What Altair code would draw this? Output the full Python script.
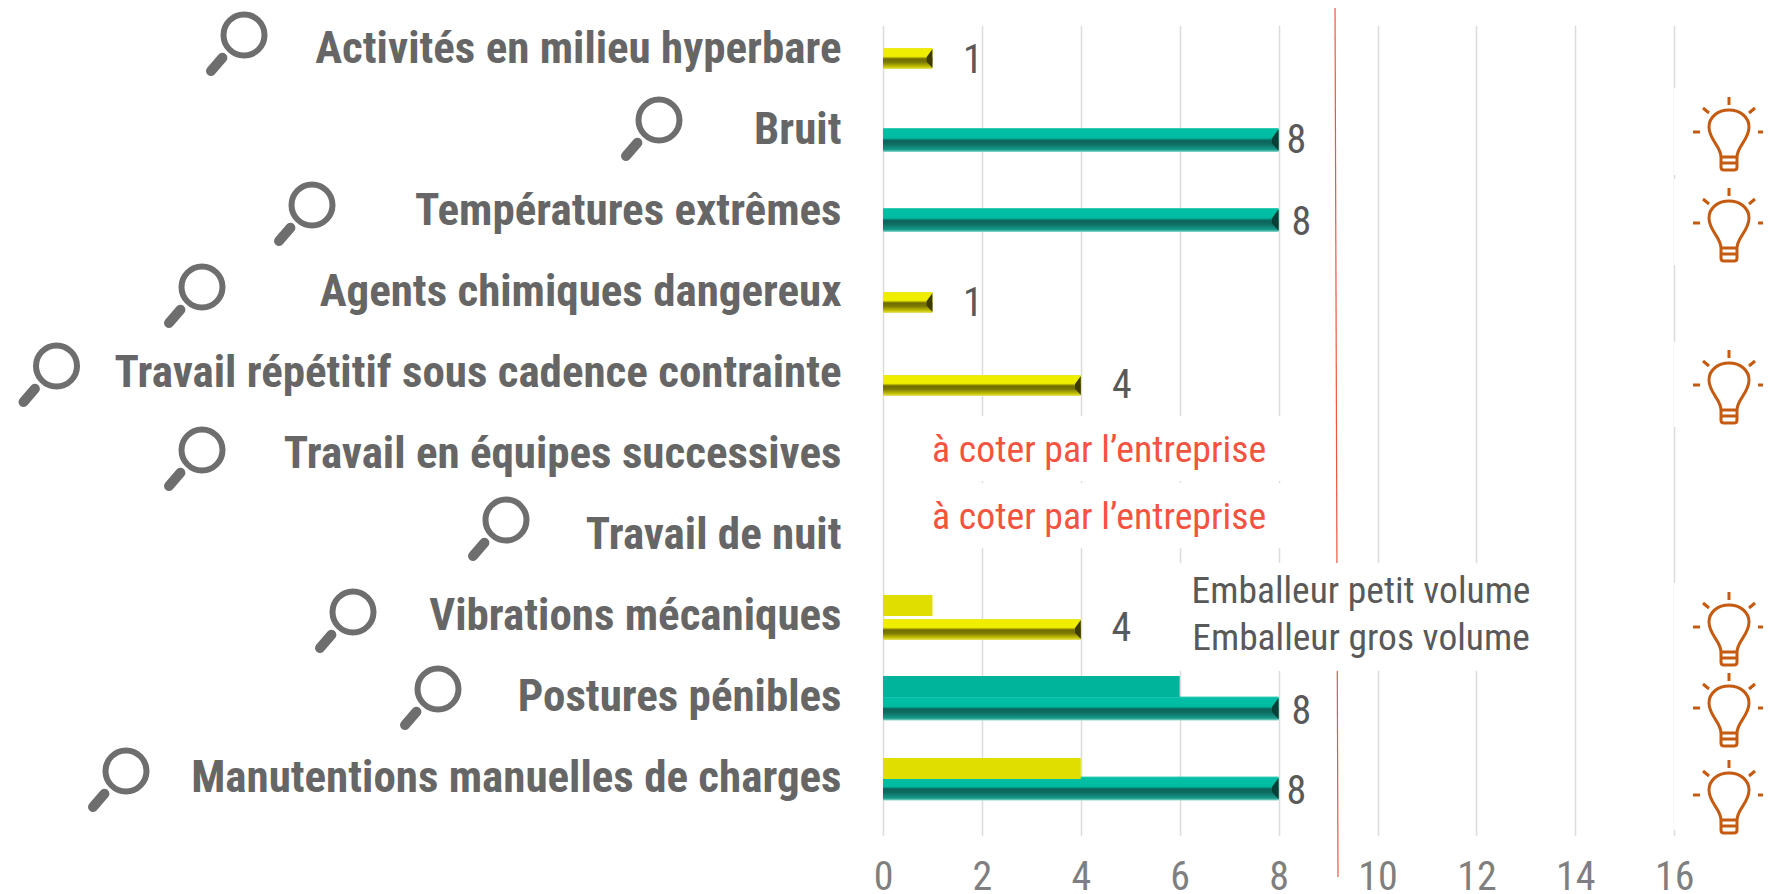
import altair as alt
import pandas as pd

# ---- chart values ----
categories = ["Activités en milieu hyperbare", "Bruit", "Températures extrêmes",
              "Agents chimiques dangereux", "Travail répétitif sous cadence contrainte",
              "Travail en équipes successives", "Travail de nuit", "Vibrations mécaniques",
              "Postures pénibles", "Manutentions manuelles de charges"]
gros_volume = [1, 8, 8, 1, 4, None, None, 4, 8, 8]
petit_volume = [None, None, None, None, None, None, None, 1, 6, 4]
tick_values = [0, 2, 4, 6, 8, 10, 12, 14, 16]
note_rows = ["Travail en équipes successives", "Travail de nuit"]
note_text = "à coter par l’entreprise"
legend_names = ["Emballeur petit volume", "Emballeur gros volume"]
bulb_rows = ["Bruit", "Températures extrêmes", "Travail répétitif sous cadence contrainte",
             "Vibrations mécaniques", "Postures pénibles", "Manutentions manuelles de charges"]

# ---- styling / layout (separate from values) ----
NARROW = "Roboto Condensed"
GREY = "#595959"
PX_PER_UNIT = 49.45
PLOT_W, PLOT_H = 880, 800
LEFT, TOP = 883, 22          # plot origin on the page
ROW_TOP_RANGE = [-13.5, 796.5]

bar_offset = [9.5, 10, 9, 10.5, 12.5, 0, 0, 13.5, 11.5, 10.5]
flat_offset = [0, 0, 0, 0, 0, 0, 0, -10.5, -10.5, -9.5]
label_x_gap = [0.82, 0.36, 0.46, 0.82, 0.83, 0, 0, 0.82, 0.46, 0.36]
label_offset = [12, 11, 12, 12, 13, 0, 0, 13, 15, 14]
note_offset = [-3, -17]
mag_px = [(244, 35), (659, 120), (312, 205), (202, 287), (56.5, 366),
          (202, 450), (506, 520), (353, 612), (438, 689), (126, 771)]
bulb_px = [132, 223, 385, 627, 708, 795]


def px_x(v):
    return alt.value(v - LEFT)


def px_y(v):
    return alt.value(v - TOP)


x_scale = alt.Scale(domain=[0, PLOT_W / PX_PER_UNIT], range=[0, PLOT_W], nice=False, zero=False)
y_scale = alt.Scale(domain=categories, range=ROW_TOP_RANGE, padding=0)

x_axis = alt.Axis(values=tick_values, grid=True, gridColor="#dcdcdc", gridWidth=1.5,
                  domain=False, ticks=False, labelFont=NARROW, labelFontSize=40,
                  labelColor="#7f7f7f", labelPadding=35, labelFlush=False, title=None,
                  labelOverlap=False)
y_axis = alt.Axis(domain=False, ticks=False, grid=False, labelFont=NARROW, labelFontSize=45,
                  labelFontWeight="bold", labelColor="#666666", labelPadding=42,
                  labelLimit=900, labelOverlap=False, title=None, labelOffset=0)


def X(field="v"):
    return alt.X(f"{field}:Q", scale=x_scale, axis=x_axis)


def Y():
    return alt.Y("cat:N", scale=y_scale, axis=y_axis, sort=categories)


def gradient(stops):
    return alt.LinearGradient(gradient="linear", x1=0, x2=0, y1=0, y2=1,
                              stops=[alt.GradientStop(offset=o, color=c) for o, c in stops])


TEAL = gradient([(0, "#4fd0bb"), (0.06, "#00bfa5"), (0.42, "#00bba2"), (0.52, "#0c645a"),
                 (0.68, "#0f6f64"), (0.9, "#149a8a"), (1, "#8fdccd")])
YELLOW = gradient([(0, "#e4e43a"), (0.06, "#f0ee00"), (0.4, "#efed00"), (0.52, "#6f6c00"),
                   (0.68, "#7d7a00"), (0.9, "#c9c600"), (1, "#e6e570")])


def is_teal(v):
    return v >= 6


layers = []
# first layer carries the axes and gridlines
base = pd.DataFrame({"cat": categories, "v": [v if v is not None else 0 for v in gros_volume]})
layers.append(alt.Chart(base).mark_bar(opacity=0).encode(x=X(), y=Y()))

# masks that hide the gridlines behind pasted boxes
masks = [(888, 1290, 416, 481), (888, 1290, 483, 548), (1170, 1560, 563, 671),
         (1674, 1763, 88, 175), (1674, 1763, 179, 265), (1674, 1763, 342, 427),
         (1674, 1763, 583, 830)]
for x0, x1, y0, y1 in masks:
    layers.append(alt.Chart(base.head(1)).mark_rect(color="white").encode(
        x=px_x(x0), x2=px_x(x1), y=px_y(y0), y2=px_y(y1)))

# red threshold line
for y0, y1 in [(8, 563), (671, 877)]:
    x0 = 1335 + (y0 / 877) * 3
    x1 = 1335 + (y1 / 877) * 3
    layers.append(alt.Chart(base.head(1)).mark_rule(color="#f0553f", strokeWidth=1.2).encode(
        x=px_x(x0), x2=px_x(x1), y=px_y(y0), y2=px_y(y1)))

# bevelled bars (Emballeur gros volume) + data labels
for i, v in enumerate(gros_volume):
    if v is None:
        continue
    row = pd.DataFrame({"cat": [categories[i]], "v": [v], "lx": [v + label_x_gap[i]], "t": [str(v)]})
    teal = is_teal(v)
    layers.append(alt.Chart(row).mark_bar(color=TEAL if teal else YELLOW, height=24 if teal else 21,
                                          yOffset=bar_offset[i]).encode(x=X(), y=Y()))
    tip = "M0 -0.9 L-0.55 -0.15 L-0.55 0.3 L0 0.9 Z"
    layers.append(alt.Chart(row).mark_point(shape=tip, filled=True, opacity=1,
                                            fill="#063f38" if teal else "#3d3b00", strokeWidth=0,
                                            size=(24 if teal else 21) ** 2, yOffset=bar_offset[i]).encode(x=X(), y=Y()))
    layers.append(alt.Chart(row).mark_text(font=NARROW, fontSize=40, color=GREY, align="center",
                                           baseline="middle", yOffset=label_offset[i]).encode(
        x=X("lx"), y=Y(), text="t:N"))

# flat bars (Emballeur petit volume)
for i, v in enumerate(petit_volume):
    if v is None:
        continue
    row = pd.DataFrame({"cat": [categories[i]], "v": [v]})
    layers.append(alt.Chart(row).mark_bar(color="#00b39b" if is_teal(v) else "#e0de00", height=21,
                                          yOffset=flat_offset[i]).encode(x=X(), y=Y()))

# red notes
for name, off in zip(note_rows, note_offset):
    row = pd.DataFrame({"cat": [name], "v": [4.37], "t": [note_text]})
    layers.append(alt.Chart(row).mark_text(font=NARROW, fontSize=37.8, color="#f4533f", align="center",
                                           baseline="middle", yOffset=off).encode(x=X(), y=Y(), text="t:N"))

# legend text (no swatches in the reference)
for name, yp in zip(legend_names, [592, 639]):
    row = pd.DataFrame({"t": [name]})
    layers.append(alt.Chart(row).mark_text(font=NARROW, fontSize=37.5, color=GREY, align="center",
                                           baseline="middle").encode(
        x=px_x(1361), y=px_y(yp), text="t:N"))

# magnifier icons
handle = "M-1.1 1.2 L-0.72 0.76"
for (mx, my) in mag_px:
    row = pd.DataFrame({"k": [1]})
    layers.append(alt.Chart(row).mark_point(shape="circle", size=1681, filled=False, opacity=1,
                                            stroke="#6e6e6e", strokeWidth=6).encode(x=px_x(mx), y=px_y(my)))
    layers.append(alt.Chart(row).mark_point(shape=handle, size=3600, filled=False, opacity=1,
                                            stroke="#6e6e6e", strokeWidth=10, strokeCap="round").encode(
        x=px_x(mx), y=px_y(my)))

# lightbulb icons
bulb = ("M0 -0.875 L0 -0.675 M-0.65 -0.6 L-0.5 -0.475 M0.65 -0.6 L0.5 -0.475 "
        "M-0.9 0 L-0.725 0 M0.725 0 L0.85 0 "
        "M-0.2 0.625 C-0.2 0.35 -0.5 0.2 -0.5 -0.125 C-0.5 -0.375 -0.275 -0.55 0 -0.55 "
        "C0.275 -0.55 0.5 -0.375 0.5 -0.125 C0.5 0.2 0.2 0.35 0.2 0.625 Z "
        "M-0.2 0.625 L-0.2 0.875 Q-0.2 0.95 -0.125 0.95 L0.125 0.95 Q0.2 0.95 0.2 0.875 L0.2 0.625 "
        "M-0.2 0.775 L0.2 0.775")
for name, yc in zip(bulb_rows, bulb_px):
    row = pd.DataFrame({"cat": [name]})
    layers.append(alt.Chart(row).mark_point(shape=bulb, size=6400, filled=False, opacity=1,
                                            stroke="#c55a11", strokeWidth=3).encode(
        x=px_x(1729), y=px_y(yc)))

chart = alt.layer(*layers).properties(
    width=PLOT_W, height=PLOT_H,
    padding={"left": LEFT - 8, "top": TOP - 8, "right": 0, "bottom": 72},
    autosize=alt.AutoSizeParams(type="none"),
).configure_view(stroke=None)

chart.save("out.html", embed_options={"renderer": "svg", "actions": False})
